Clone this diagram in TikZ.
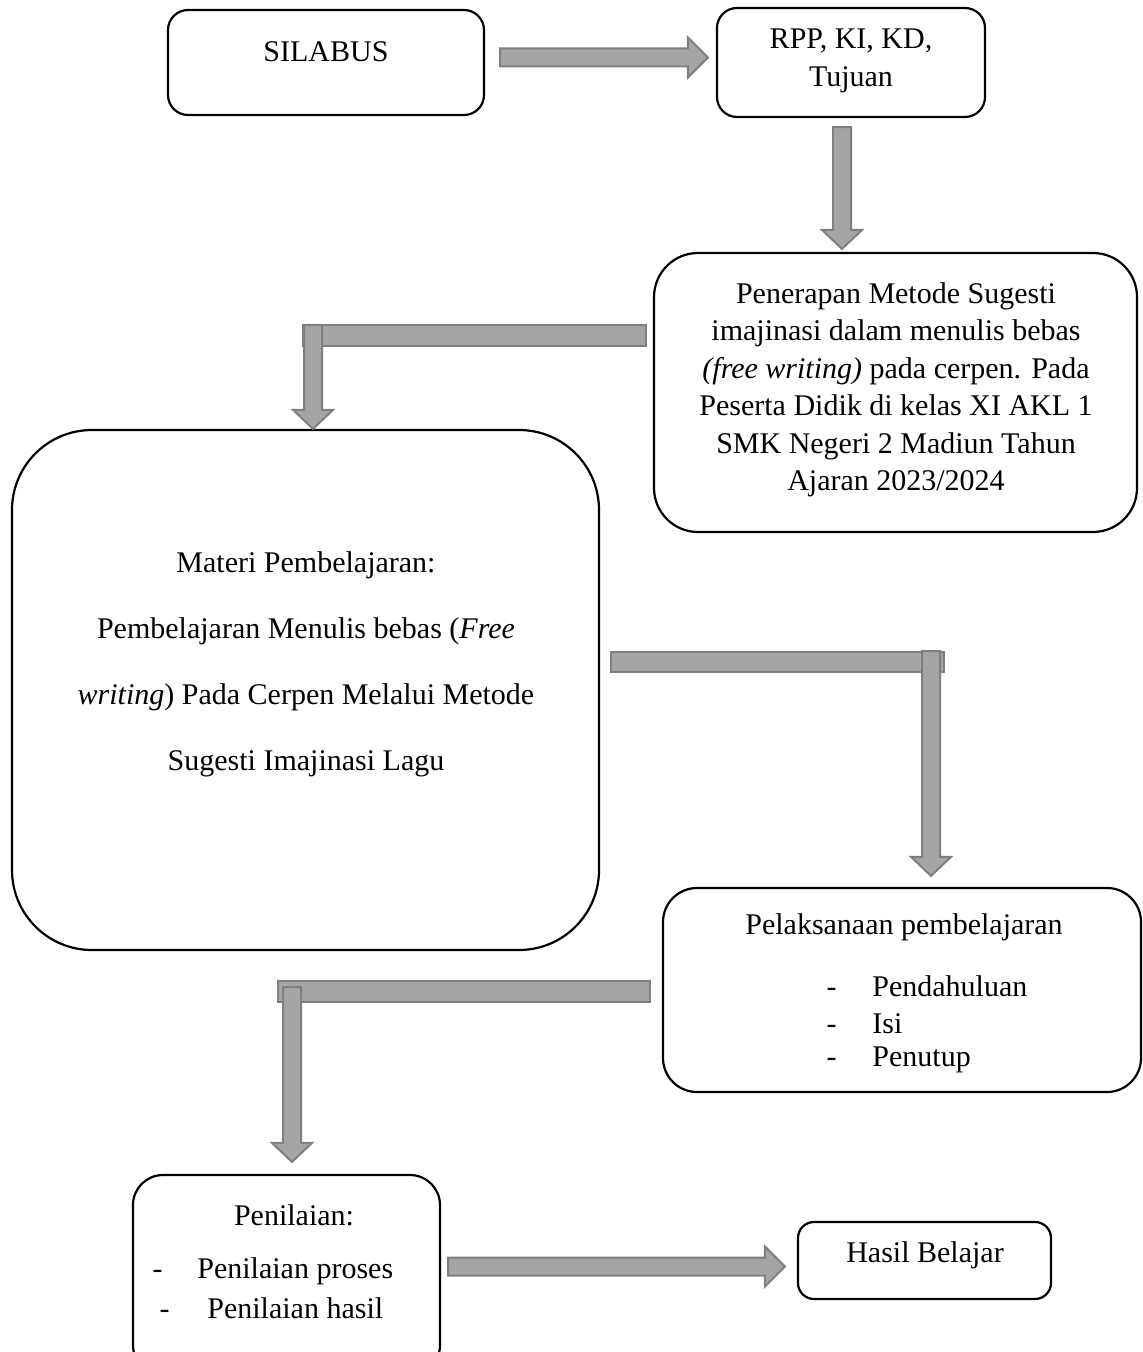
\documentclass[tikz,border=0pt]{standalone}
\usepackage{fontspec}
\setmainfont{Liberation Serif}
\usepackage{xcolor}
\usepackage{tikz}
\usetikzlibrary{calc}

\definecolor{arrowgray}{HTML}{A5A5A5}
\definecolor{arrowedge}{HTML}{7F7F7F}

\begin{document}
\begin{tikzpicture}[x=0.5pt, y=-0.5pt,
    box/.style={draw, line width=1.1pt, rounded corners=#1, inner sep=0pt},
    txt/.style={font=\fontsize{15}{18.75}\selectfont, align=center, inner sep=0pt},
    arrowfill/.style={fill=arrowgray, draw=arrowedge, line width=1pt},
    rarrow/.style={to path={let \p1=(\tikztostart), \p2=(\tikztotarget) in
        (\x1,\y1+4.5pt) -- (\x2-10pt,\y1+4.5pt) -- (\x2-10pt,\y1+10pt) -- (\x2,\y1)
        -- (\x2-10pt,\y1-10pt) -- (\x2-10pt,\y1-4.5pt) -- (\x1,\y1-4.5pt) -- cycle}},
    darrow/.style={to path={let \p1=(\tikztostart), \p2=(\tikztotarget) in
        (\x1-4.5pt,\y1) -- (\x1-4.5pt,\y2+9.5pt) -- (\x1-10pt,\y2+9.5pt) -- (\x1,\y2)
        -- (\x1+10pt,\y2+9.5pt) -- (\x1+4.5pt,\y2+9.5pt) -- (\x1+4.5pt,\y1) -- cycle}}]
    \clip (0,0) rectangle (1143,1352);

    % top row
    \node[box=10pt, minimum width=158pt, minimum height=52.5pt] (silabus) at (326,62.5) {};
    \node[txt] (silabustxt) at (326,52) {SILABUS};
    \node[box=10pt, minimum width=134pt, minimum height=54.5pt] (rpp) at (851,62.5) {};
    \node[txt] (rpptxt) at (851,61) {RPP, KI, KD,\\Tujuan};

    % metode box
    \node[box=22pt, minimum width=241.5pt, minimum height=139.5pt] (penerapan) at (895.5,392.5) {};
    \node[txt] (penerapantxt) at (896,390) {Penerapan Metode Sugesti\\
        imajinasi dalam menulis bebas\\
        \textit{(free writing)} pada cerpen. Pada\\
        Peserta Didik di kelas XI AKL 1\\
        SMK Negeri 2 Madiun Tahun\\
        Ajaran 2023/2024};

    % materi box
    \node[box=40pt, minimum width=293.5pt, minimum height=260pt] (materi) at (305.5,690) {};
    \node[txt, font=\fontsize{15}{33}\selectfont] (materitxt) at (306,664) {Materi Pembelajaran:\\
        Pembelajaran Menulis bebas (\textit{Free}\\
        \textit{writing}) Pada Cerpen Melalui Metode\\
        Sugesti Imajinasi Lagu};

    % pelaksanaan box
    \node[box=17pt, minimum width=239pt, minimum height=102pt] (pelaksanaan) at (902,990) {};
    \node[txt] (pltitle) at (904,927) {Pelaksanaan pembelajaran};
    \node[txt, anchor=west] (plitem1) at (872,986) {Pendahuluan};
    \node[txt, anchor=west] (plitem2) at (872,1024) {Isi};
    \node[txt, anchor=west] (plitem3) at (872,1060) {Penutup};
    \node[txt, anchor=base east] (pldash1) at ($(plitem1.base west)+(-35,0)$) {-};
    \node[txt, anchor=base east] (pldash2) at ($(plitem2.base west)+(-35,0)$) {-};
    \node[txt, anchor=base east] (pldash3) at ($(plitem3.base west)+(-35,0)$) {-};

    % bottom row
    \node[box=15pt, minimum width=153.5pt, minimum height=100pt] (penilaian) at (286.5,1275) {};
    \node[txt] (pntitle) at (294,1215) {Penilaian:};
    \node[txt, anchor=west] (pnitem1) at (197,1271) {Penilaian proses};
    \node[txt, anchor=west] (pnitem2) at (207,1308) {Penilaian hasil};
    \node[txt, anchor=base east] (pndash1) at ($(pnitem1.base west)+(-34,0)$) {-};
    \node[txt, anchor=base east] (pndash2) at ($(pnitem2.base west)+(-37,0)$) {-};
    \node[box=8pt, minimum width=126.5pt, minimum height=38.5pt] (hasil) at (924.5,1260.5) {};
    \node[txt] (hasiltxt) at (925,1255) {Hasil Belajar};

    % straight arrows
    \coordinate (a1s) at ($(silabus.east)+(15,-5)$);
    \coordinate (a1e) at ($(rpp.west)+(-8,-5)$);
    \draw[arrowfill] (a1s) to[rarrow] (a1e);
    \coordinate (a2s) at ($(rpp.south)+(-9,9)$);
    \coordinate (a2e) at ($(penerapan.north)+(-53,-3)$);
    \draw[arrowfill] (a2s) to[darrow] (a2e);

    % bent arrow: penerapan -> materi
    \draw[arrowfill] (303,325) rectangle ($(penerapan.west)+(-7,-46)$);
    \coordinate (b1s) at (313,325);
    \coordinate (b1e) at (materi.north -| b1s);
    \draw[arrowfill] (b1s) to[darrow] (b1e);

    % bent arrow: materi -> pelaksanaan
    \draw[arrowfill] ($(materi.east)+(11,-38)$) rectangle (944,672);
    \coordinate (b2s) at (931,651);
    \coordinate (b2e) at ($(pelaksanaan.north -| b2s)+(0,-11)$);
    \draw[arrowfill] (b2s) to[darrow] (b2e);

    % bent arrow: pelaksanaan -> penilaian
    \draw[arrowfill] (278,981) rectangle ($(pelaksanaan.west)+(-12,12)$);
    \coordinate (b3s) at (292,987);
    \coordinate (b3e) at ($(penilaian.north -| b3s)+(0,-12)$);
    \draw[arrowfill] (b3s) to[darrow] (b3e);

    % penilaian -> hasil
    \coordinate (a4s) at ($(penilaian.east)+(7,-8.5)$);
    \coordinate (a4e) at ($(hasil.west)+(-12,6)$);
    \draw[arrowfill] (a4s) to[rarrow] (a4e);
\end{tikzpicture}
\end{document}
